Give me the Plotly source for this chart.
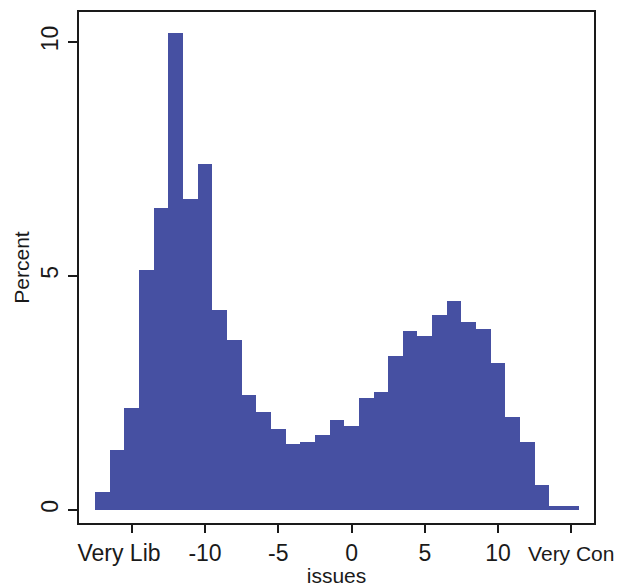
import plotly.graph_objects as go

# Histogram bins (centers, width 1) and percent heights
bin_centers = list(range(-17, 16))
percent = [0.39, 1.28, 2.17, 5.13, 6.45, 10.19, 6.65, 7.39, 4.27, 3.63,
           2.45, 2.09, 1.73, 1.41, 1.46, 1.59, 1.93, 1.80, 2.39, 2.53,
           3.28, 3.82, 3.72, 4.17, 4.47, 4.02, 3.87, 3.13, 1.99, 1.45,
           0.53, 0.09, 0.08]

x_tickvals = [-15, -10, -5, 0, 5, 10, 15]
x_ticktext = ["Very Lib\u00a0\u00a0\u00a0\u00a0", "-10", "-5", "0", "5", "10",
              "<span style='font-size:21px'>Very Con</span>"]
y_tickvals = [0, 5, 10]
y_ticktext = ["0", "5", "10"]

fig = go.Figure(go.Bar(
    x=bin_centers, y=percent, width=1,
    marker=dict(color="#4650a2", line=dict(width=0)),
))

font_family = "Liberation Sans, Arial, Helvetica, sans-serif"

fig.update_layout(
    width=618, height=587,
    margin=dict(l=79, r=24, t=12, b=64),
    paper_bgcolor="white", plot_bgcolor="white",
    bargap=0, showlegend=False,
    font=dict(family=font_family, size=22, color="#1a1a1a"),
)
fig.update_xaxes(
    range=[-18.6, 16.55], tickvals=x_tickvals, ticktext=x_ticktext,
    showgrid=False, zeroline=False, automargin=False,
    showline=True, linecolor="#1a1a1a", linewidth=1.8, mirror=True,
    ticks="outside", ticklen=8, tickwidth=1.8, tickcolor="#1a1a1a",
    ticklabeloverflow="allow",
    title=dict(text="issues", font=dict(size=21), standoff=5),
    tickfont=dict(size=23),
)
fig.update_yaxes(
    range=[-0.28, 10.64], tickvals=y_tickvals, ticktext=y_ticktext,
    showgrid=False, zeroline=False, automargin=False,
    showline=True, linecolor="#1a1a1a", linewidth=1.8, mirror=True,
    ticks="outside", ticklen=9, tickwidth=1.8, tickcolor="#1a1a1a",
    tickangle=-90, ticklabelstandoff=1,
    title=dict(text="Percent", font=dict(size=21), standoff=2),
    tickfont=dict(size=23),
)

fig.write_html("out.html")
